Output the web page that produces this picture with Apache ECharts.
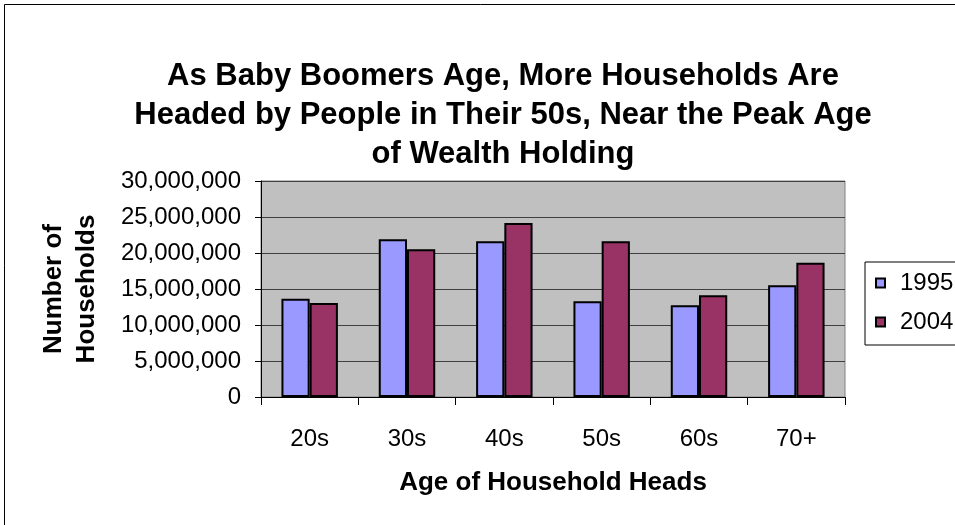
<!DOCTYPE html>
<html>
<head>
<meta charset="utf-8">
<script src="https://cdn.jsdelivr.net/npm/echarts@6/dist/echarts.min.js"></script>
<style>html,body{margin:0;padding:0;background:#fff;}#chart{width:955px;height:525px;}</style>
</head>
<body>
<div id="chart"></div>
<script>
var categories = ['20s', '30s', '40s', '50s', '60s', '70+'];
var values1995 = [13640000, 21910000, 21630000, 13310000, 12760000, 15530000];
var values2004 = [13040000, 20520000, 24180000, 21630000, 14140000, 18630000];
var seriesNames = ['1995', '2004'];
var yTicks = { min: 0, max: 30000000, interval: 5000000 };
var titleText = 'As Baby Boomers Age, More Households Are\nHeaded by People in Their 50s, Near the Peak Age\nof Wealth Holding';
var xTitle = 'Age of Household Heads';
var yTitle = 'Number of\nHouseholds';

var FONT = 'Liberation Sans, Arial, sans-serif';
var chart = echarts.init(document.getElementById('chart'), null, { renderer: 'canvas' });
chart.setOption({
  animation: false,
  backgroundColor: '#ffffff',
  textStyle: { fontFamily: FONT },
  title: {
    text: titleText,
    left: 503,
    textAlign: 'center',
    top: 57,
    padding: 0,
    textStyle: { fontFamily: FONT, fontSize: 31, fontWeight: 'bold', color: '#000', lineHeight: 39 }
  },
  graphic: [{
    type: 'rect',
    shape: { x: 4.5, y: 4.5, width: 1000, height: 600 },
    style: { fill: 'none', stroke: '#000', lineWidth: 1 },
    silent: true
  }],
  legend: {
    orient: 'vertical',
    left: 865,
    top: 262,
    padding: [9, 20, 11, 10],
    borderColor: '#000',
    borderWidth: 1,
    itemWidth: 9,
    itemHeight: 9,
    itemGap: 15,
    icon: 'rect',
    data: seriesNames,
    textStyle: { fontFamily: FONT, fontSize: 24, color: '#000', padding: [0, 0, 0, 10] }
  },
  grid: { left: 261, right: 110, top: 181, bottom: 128, show: true, backgroundColor: '#C0C0C0', borderColor: '#808080', borderWidth: 1 },
  xAxis: {
    type: 'category',
    data: categories,
    boundaryGap: true,
    name: xTitle,
    nameLocation: 'middle',
    nameGap: 73,
    nameTextStyle: { fontFamily: FONT, fontSize: 26, fontWeight: 'bold', color: '#000' },
    axisLine: { lineStyle: { color: '#000', width: 1 } },
    axisTick: { show: true, alignWithLabel: false, length: 8, lineStyle: { color: '#000' } },
    axisLabel: { fontFamily: FONT, fontSize: 24, color: '#000', margin: 30 },
    splitLine: { show: false }
  },
  yAxis: {
    type: 'value',
    min: yTicks.min,
    max: yTicks.max,
    interval: yTicks.interval,
    name: yTitle,
    nameLocation: 'middle',
    nameGap: 158,
    nameRotate: 90,
    nameTextStyle: { fontFamily: FONT, fontSize: 26, fontWeight: 'bold', color: '#000', lineHeight: 33 },
    axisLine: { show: true, lineStyle: { color: '#000', width: 1 } },
    axisTick: { show: true, length: 6, lineStyle: { color: '#000' } },
    axisLabel: {
      fontFamily: FONT, fontSize: 24, color: '#000', margin: 20,
      formatter: function (v) { return v.toLocaleString('en-US'); }
    },
    splitLine: { show: true, lineStyle: { color: '#404040', width: 1 } }
  },
  series: [
    {
      name: seriesNames[0], type: 'bar', data: values1995,
      barGap: '0%', barCategoryGap: '42%',
      itemStyle: { color: '#9999FF', borderColor: '#000', borderWidth: 2 }
    },
    {
      name: seriesNames[1], type: 'bar', data: values2004,
      barGap: '0%', barCategoryGap: '42%',
      itemStyle: { color: '#993366', borderColor: '#000', borderWidth: 2 }
    }
  ]
});
</script>
</body>
</html>
